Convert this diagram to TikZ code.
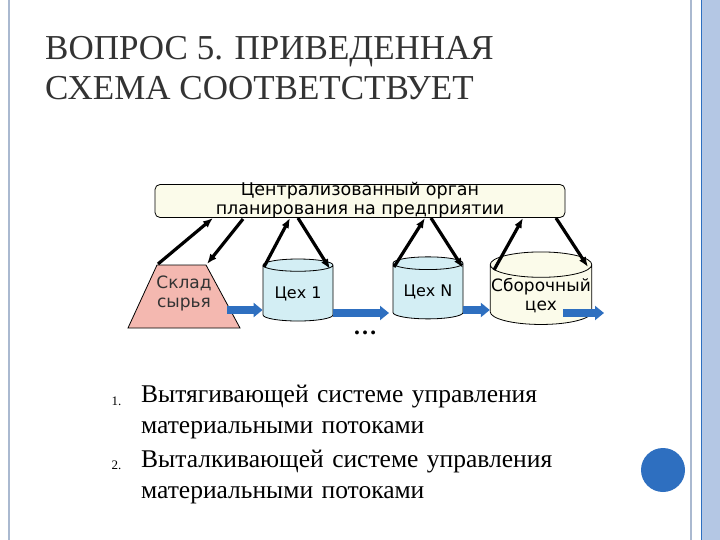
\documentclass[tikz,border=0pt]{standalone}
\usepackage{fontspec}
\setmainfont{Liberation Serif}
\newfontfamily\djsans{DejaVu Sans}
\usetikzlibrary{shapes.geometric,arrows.meta}
\definecolor{pinkf}{HTML}{F4B8B0}
\definecolor{cyanf}{HTML}{D3EEF4}
\definecolor{yelf}{HTML}{FBFBEA}
\definecolor{barblue}{HTML}{B4C7E4}
\definecolor{arrblue}{HTML}{2E6FC0}
\tikzset{
  cyl/.style={cylinder, shape border rotate=90, aspect=0.25, draw=black, thick, minimum width=70pt, minimum height=62pt, font=\djsans\fontsize{16}{18}\selectfont, align=center, inner sep=1pt},
  ctl/.style={-{Latex[length=10pt,width=8pt]}, line width=3.2pt},
  flow/.style={-{Triangle[length=9pt,width=14pt]}, line width=8pt, draw=arrblue},
  lst/.style={anchor=north west, font=\fontsize{25.5}{31}\selectfont, align=left, text width=520pt}
}
\begin{document}
\begin{tikzpicture}[x=1pt,y=-1pt]
\useasboundingbox (0,0) rectangle (720,540);
\fill[white] (0,0) rectangle (720,540);
\fill[barblue] (701,0) rectangle (720,540);
\draw[arrblue, line width=0.8pt] (701,0) -- (701,540);
\draw[barblue!80!gray, line width=2.5pt] (691,0) -- (691,540);
\draw[barblue!80!gray, line width=2.5pt] (9,0) -- (9,540);
\node[anchor=north west, font=\fontsize{35}{40}\selectfont, text=black!80, align=left, inner sep=0] (title) at (45,36) {ВОПРОС 5. ПРИВЕДЕННАЯ\\СХЕМА СООТВЕТСТВУЕТ};
\node[draw, thick, rounded corners=5pt, fill=yelf, minimum width=410pt, minimum height=33pt, inner sep=0] (org) at (360,201) {};
\node[font=\djsans\fontsize{17.5}{19}\selectfont, align=center] (orgt) at (360,200) {Централизованный орган\\планирования на предприятии};
\draw[thick, fill=pinkf] (157,265) -- (206,265) -- (240,328) -- (128,328) -- cycle;
\node[font=\djsans\fontsize{17}{19}\selectfont, align=center, text=black!80] (skt) at (184,293) {Склад\\сырья};
\node[cyl, fill=cyanf] (c1) at (298,294) {Цех 1};
\node[cyl, fill=cyanf] (cn) at (428,292) {Цех N};
\node[cyl, fill=yelf, minimum width=97pt, font=\djsans\fontsize{17}{19}\selectfont] (cs) at (541,296) {Сборочный\\цех};
\node[font=\fontsize{24}{24}\selectfont\bfseries] (dots) at (365,333) {…};
\coordinate (e) at (604,313);
\draw[flow] (227,310) -- (c1.west |- 0,310);
\draw[flow] (c1.east |- 0,313) -- (389,313);
\draw[flow] (cn.east |- 0,310) -- (cs.west |- 0,310);
\draw[flow] (563,313) -- (e);
\draw[ctl] (158,264) -- (213,218);
\draw[ctl] (243,219) -- (207,264);
\draw[ctl] (264,267) -- (290,218);
\draw[ctl] (298,218) -- (330,269);
\draw[ctl] (394,267) -- (425,218);
\draw[ctl] (431,218) -- (463,268);
\draw[ctl] (494,270) -- (523,218);
\draw[ctl] (556,218) -- (588,267);
\node[anchor=north west, font=\fontsize{13}{13}\selectfont] (n1) at (108,393) {1.};
\node[anchor=north west, font=\fontsize{13}{13}\selectfont] (n2) at (108,457) {2.};
\node[lst, inner sep=0] (l1) at (141,385) {Вытягивающей системе управления\\материальными потоками};
\node[lst, inner sep=0] (l2) at (141,450) {Выталкивающей системе управления\\материальными потоками};
\node[circle, fill=arrblue, minimum size=44pt, inner sep=0] (dot) at (663,470) {};
\end{tikzpicture}
\end{document}
